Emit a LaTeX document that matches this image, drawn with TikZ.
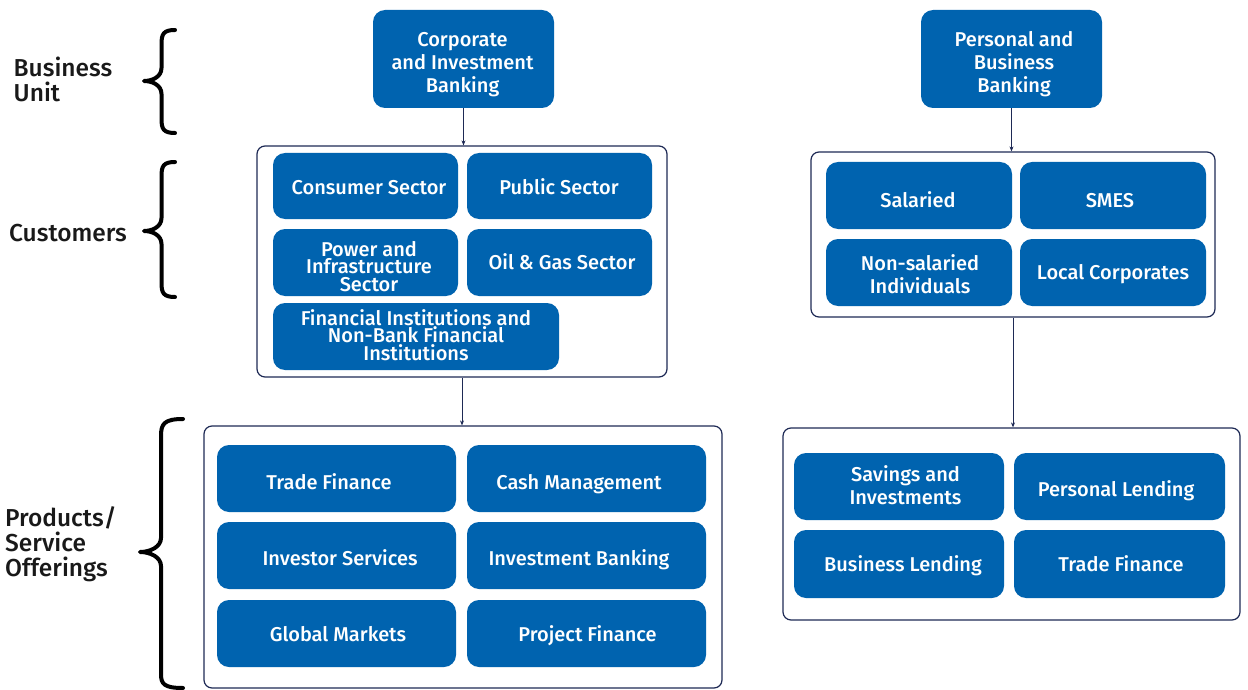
\documentclass[tikz,border=0pt]{standalone}
\usepackage{fontspec}
\setmainfont{Fira Sans Medium}
\usetikzlibrary{arrows.meta}
\definecolor{bankblue}{RGB}{0,99,175}
\definecolor{navy}{RGB}{30,42,85}
\begin{document}
\begin{tikzpicture}[x=1pt,y=-1pt,
 bbox/.style={fill=bankblue, draw=none, rounded corners=12pt, inner sep=0pt},
 btxt/.style={anchor=base, text=white, align=center, inner sep=0pt, font=\fontsize{20}{23}\selectfont},
 btight/.style={btxt, font=\fontsize{20}{17.5}\selectfont},
 frame/.style={draw=navy, line width=1.2pt, rounded corners=8pt, fill=white, inner sep=0pt},
 conn/.style={draw=navy, line width=1pt, -{Stealth[length=5pt,width=4pt]}},
 lbl/.style={anchor=base west, align=left, inner sep=0pt, text=black!90, font=\fontsize{24.5}{25}\selectfont},
 brc/.style={line width=4pt, black, line cap=round, line join=round}]
\useasboundingbox (0,0) rectangle (1248,690);

% ---------- left labels (base = last line) ----------
\node[lbl] (lbu) at (13.5,101.7) {Business\\Unit};
\node[lbl] (lcu) at (9,241.7) {Customers};
\node[lbl] (lpr) at (5,576.7) {Products/\\Service\\Offerings};

% ---------- braces ----------
\draw[brc] (175,30) .. controls (163.5,30) and (161.5,34) .. (161.5,44) -- (161.5,68) .. controls (161.5,77) and (152,81) .. (144,81) .. controls (152,81) and (161.5,85) .. (161.5,94) -- (161.5,119) .. controls (161.5,129) and (163.5,133) .. (175,133);
\draw[brc] (175,162) .. controls (163.5,162) and (161.5,166) .. (161.5,176) -- (161.5,218) .. controls (161.5,227) and (152,231) .. (144,231) .. controls (152,231) and (161.5,235) .. (161.5,244) -- (161.5,283) .. controls (161.5,293) and (163.5,297) .. (175,297);
\draw[brc] (183,419) .. controls (164,419) and (161,424) .. (161,436) -- (161,538) .. controls (161,547) and (150,552) .. (140,552) .. controls (150,552) and (161,557) .. (161,566) -- (161,674) .. controls (161,684) and (164,688) .. (183,688);

% ---------- left column ----------
\node[bbox, minimum width=181pt, minimum height=98pt] (cib) at (463.5,59) {};
\node[btxt] (cibt) at (462.5,92.3) {Corporate\\and Investment\\Banking};

\node[frame, minimum width=410pt, minimum height=231pt] (fl1) at (462,261.5) {};
\node[bbox, minimum width=185pt, minimum height=66pt] (cons) at (365.5,186) {};
\node[btxt] (const) at (369,194.3) {Consumer Sector};
\node[bbox, minimum width=185pt, minimum height=66pt] (pub) at (559.5,186) {};
\node[btxt] (pubt) at (559,194.3) {Public Sector};
\node[bbox, minimum width=185pt, minimum height=67pt] (pow) at (365.5,262.5) {};
\node[btight] (powt) at (369,291) {Power and\\Infrastructure\\Sector};
\node[bbox, minimum width=185pt, minimum height=67pt] (oil) at (559.5,262.5) {};
\node[btxt] (oilt) at (562,269.3) {Oil \& Gas Sector};
\node[bbox, minimum width=286pt, minimum height=67pt] (fin) at (416,336.5) {};
\node[btight] (fint) at (416,360) {Financial Institutions and\\Non-Bank Financial\\Institutions};

\node[frame, minimum width=518pt, minimum height=262pt] (fl2) at (463,557) {};
\node[bbox, minimum width=239pt, minimum height=67pt] (tfl) at (336.5,478.5) {};
\node[btxt] (tflt) at (329,489.3) {Trade Finance};
\node[bbox, minimum width=239pt, minimum height=67pt] (cash) at (586.5,478.5) {};
\node[btxt] (casht) at (579,489.3) {Cash Management};
\node[bbox, minimum width=239pt, minimum height=67pt] (inv) at (336.5,555.5) {};
\node[btxt] (invt) at (340,565.7) {Investor Services};
\node[bbox, minimum width=239pt, minimum height=67pt] (ib) at (586.5,555.5) {};
\node[btxt] (ibt) at (579,565.7) {Investment Banking};
\node[bbox, minimum width=239pt, minimum height=67pt] (gm) at (336.5,633.5) {};
\node[btxt] (gmt) at (338,641) {Global Markets};
\node[bbox, minimum width=239pt, minimum height=67pt] (pf) at (586.5,633.5) {};
\node[btxt] (pft) at (587.5,641) {Project Finance};

\draw[conn] (cib.south) -- (cib.south |- fl1.north);
\draw[conn] (fl1.south) -- (fl1.south |- fl2.north);

% ---------- right column ----------
\node[bbox, minimum width=181pt, minimum height=98pt] (pbb) at (1011.5,59) {};
\node[btxt] (pbbt) at (1014,92.3) {Personal and\\Business\\Banking};

\node[frame, minimum width=404pt, minimum height=165pt] (fr1) at (1013,234.5) {};
\node[bbox, minimum width=186pt, minimum height=67pt] (sal) at (919,195.5) {};
\node[btxt] (salt) at (918,207.3) {Salaried};
\node[bbox, minimum width=186pt, minimum height=67pt] (sme) at (1113,195.5) {};
\node[btxt] (smet) at (1110,207.3) {SMES};
\node[bbox, minimum width=186pt, minimum height=67pt] (nsi) at (919,272.5) {};
\node[btxt] (nsit) at (920,293.3) {Non-salaried\\Individuals};
\node[bbox, minimum width=186pt, minimum height=67pt] (loc) at (1113,272.5) {};
\node[btxt] (loct) at (1113,279.3) {Local Corporates};

\node[frame, minimum width=457pt, minimum height=192pt] (fr2) at (1011.5,524) {};
\node[bbox, minimum width=210pt, minimum height=67pt] (sav) at (899,486.5) {};
\node[btxt] (savt) at (905.5,504) {Savings and\\Investments};
\node[bbox, minimum width=211pt, minimum height=67pt] (pl) at (1119.5,486.5) {};
\node[btxt] (plt) at (1116,496.7) {Personal Lending};
\node[bbox, minimum width=210pt, minimum height=68pt] (bl) at (899,564) {};
\node[btxt] (blt) at (903,571.7) {Business Lending};
\node[bbox, minimum width=211pt, minimum height=68pt] (tfr) at (1119.5,564) {};
\node[btxt] (tfrt) at (1121,571.7) {Trade Finance};

\draw[conn] (pbb.south) -- (pbb.south |- fr1.north);
\draw[conn] (fr1.south) -- (fr1.south |- fr2.north);
\end{tikzpicture}
\end{document}
